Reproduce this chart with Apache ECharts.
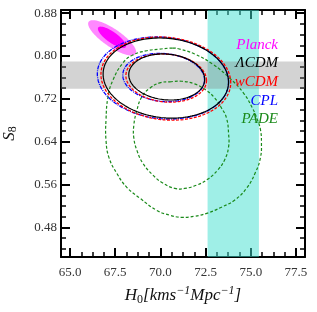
<!DOCTYPE html>
<html><head><meta charset="utf-8">
<script src="https://cdn.jsdelivr.net/npm/echarts@6/dist/echarts.min.js"></script>
<style>html,body{margin:0;padding:0;background:#fff}#c{width:317px;height:312px}</style>
</head><body><div id="c"></div>
<script>
// ---- tick values ----
const xMajorTicks = [65, 67.5, 70, 72.5, 75, 77.5];
const xMinorTicks = [65.625, 66.25, 66.875, 68.125, 68.75, 69.375, 70.625, 71.25, 71.875, 73.125, 73.75, 74.375, 75.625, 76.25, 76.875];
const yMajorTicks = [0.48, 0.56, 0.64, 0.72, 0.80, 0.88];
const yMinorTicks = [0.44, 0.46, 0.50, 0.52, 0.54, 0.58, 0.60, 0.62, 0.66, 0.68, 0.70, 0.74, 0.76, 0.78, 0.82, 0.84, 0.86];

// ---- bands ----
const h0Band = [72.61, 75.45];   // local H0
const s8Band = [0.739, 0.790];   // weak lensing S8

// ---- ellipse contours: [H0 centre, S8 centre, H0 half-extent, S8 half-extent, correlation] ----
const planckOuter = [67.33, 0.834, 1.33, 0.033, -0.80];
const planckInner = [67.32, 0.835, 0.78, 0.020, -0.80];
const lcdmOuter = [70.30, 0.759, 3.47, 0.0748, -0.1];
const lcdmInner = [70.35, 0.761, 2.10, 0.043, -0.1];
const wcdmOuter = [70.30, 0.758, 3.59, 0.0776, -0.1];
const wcdmInner = [70.32, 0.759, 2.23, 0.045, -0.1];
const cplOuter = [70.14, 0.759, 3.63, 0.0766, -0.1];
const cplInner = [70.18, 0.760, 2.26, 0.045, -0.1];

// ---- PADE contours [H0, S8] (closed loops) ----
const padeOuter = [[70.68,0.815],[71.07,0.813],[71.89,0.804],[72.89,0.785],[73.83,0.759],[74.60,0.731],[75.09,0.703],[75.37,0.681],[75.54,0.662],[75.59,0.638],[75.54,0.611],[75.26,0.583],[74.76,0.553],[74.10,0.531],[73.38,0.518],[72.61,0.507],[71.89,0.501],[71.18,0.499],[70.52,0.503],[69.80,0.512],[68.86,0.535],[68.14,0.555],[67.59,0.581],[67.15,0.611],[66.99,0.643],[66.99,0.681],[67.10,0.724],[67.37,0.755],[67.92,0.787],[68.47,0.802],[69.25,0.810],[69.96,0.813]];
const padeInner = [[70.52,0.752],[71.18,0.753],[71.89,0.748],[72.50,0.737],[73.00,0.722],[73.38,0.703],[73.66,0.684],[73.77,0.656],[73.77,0.630],[73.55,0.606],[73.16,0.587],[72.61,0.570],[72.00,0.559],[71.34,0.553],[70.79,0.553],[70.13,0.563],[69.58,0.578],[69.03,0.600],[68.70,0.624],[68.53,0.647],[68.53,0.671],[68.70,0.699],[68.97,0.724],[69.41,0.740],[69.96,0.750]];

// ---- legend ----
const legendLabels = ['Planck', 'ΛCDM', 'wCDM', 'CPL', 'PADE'];
const legendColors = ['#ff00ff', '#000000', '#ff0000', '#0000ff', '#1a8a1a'];

const SERIF = 'Liberation Serif';
const chart = echarts.init(document.getElementById('c'), null, {renderer: 'canvas'});

function ellipseSeries(params, style, z) {
  return {
    type: 'custom', xAxisIndex: 0, yAxisIndex: 0, z: z, silent: true, clip: true,
    data: [params],
    encode: {x: 0, y: 1},
    renderItem: function (p, api) {
      const cx = api.value(0), cy = api.value(1), ax = api.value(2), ay = api.value(3), r = api.value(4);
      const s = Math.sqrt(1 - r * r);
      const pts = [];
      for (let i = 0; i < 160; i++) {
        const t = i / 160 * Math.PI * 2;
        pts.push(api.coord([cx + ax * Math.cos(t), cy + ay * (r * Math.cos(t) + s * Math.sin(t))]));
      }
      return {type: 'polygon', shape: {points: pts}, style: style};
    }
  };
}
function loopSeries(points, style, z) {
  return {
    type: 'custom', xAxisIndex: 0, yAxisIndex: 0, z: z, silent: true, clip: true,
    data: points,
    encode: {x: 0, y: 1},
    renderItem: function (p, api) {
      if (p.dataIndex !== 0) return null;
      return {type: 'polygon', shape: {points: points.map(q => api.coord(q)), smooth: 0.45}, style: style};
    }
  };
}

function axisX(pos, major, showLabel) {
  const vals = major ? xMajorTicks : xMinorTicks;
  return {
    type: 'value', position: pos, min: 64.5, max: 78,
    axisLine: {show: major, onZero: false, lineStyle: {color: '#000', width: 2}},
    axisTick: {show: true, inside: true, length: major ? 9 : 5, customValues: vals, lineStyle: {color: '#000', width: major ? 2 : 1.5}},
    axisLabel: {show: showLabel, customValues: vals, formatter: v => v.toFixed(1), fontFamily: SERIF, fontSize: 13, color: '#333', margin: 9},
    splitLine: {show: false},
    name: showLabel ? '{i|H}{s|0}{i|[kms}{p|−1}{i|Mpc}{p|−1}{i|]}' : '',
    nameLocation: 'middle', nameGap: 28,
    nameTextStyle: {rich: {
      i: {fontFamily: SERIF, fontStyle: 'italic', fontSize: 17, color: '#111'},
      s: {fontFamily: SERIF, fontSize: 12, color: '#111', padding: [7, 0, 0, 0]},
      p: {fontFamily: SERIF, fontStyle: 'italic', fontSize: 12, color: '#111', padding: [0, 0, 10, 0]}
    }}
  };
}
function axisY(pos, major, showLabel) {
  const vals = major ? yMajorTicks : yMinorTicks;
  return {
    type: 'value', position: pos, min: 0.425, max: 0.886,
    axisLine: {show: major, onZero: false, lineStyle: {color: '#000', width: 2}},
    axisTick: {show: true, inside: true, length: major ? 9 : 5, customValues: vals, lineStyle: {color: '#000', width: major ? 2 : 1.5}},
    axisLabel: {show: showLabel, customValues: vals, formatter: v => v.toFixed(2), fontFamily: SERIF, fontSize: 13, color: '#333', margin: 4},
    splitLine: {show: false},
    name: showLabel ? '{i|S}{s|8}' : '',
    nameLocation: 'middle', nameGap: 42, nameRotate: 90,
    nameTextStyle: {rich: {
      i: {fontFamily: SERIF, fontStyle: 'italic', fontSize: 17, color: '#111'},
      s: {fontFamily: SERIF, fontSize: 12, color: '#111', padding: [7, 0, 0, 0]}
    }}
  };
}

const option = {
  animation: false,
  backgroundColor: '#fff',
  grid: {left: 61, right: 12, top: 10, bottom: 55, containLabel: false, outerBoundsMode: 'none'},
  xAxis: [axisX('bottom', true, true), axisX('bottom', false, false), axisX('top', true, false), axisX('top', false, false)],
  yAxis: [axisY('left', true, true), axisY('left', false, false), axisY('right', true, false), axisY('right', false, false)],
  graphic: legendLabels.map((t, i) => ({
    type: 'text', x: 278, y: [45, 63.5, 82.5, 101, 119.5][i], z: 100,
    style: {text: t, fill: legendColors[i], font: 'italic 15px "' + SERIF + '"', align: 'right', verticalAlign: 'middle'}
  })),
  series: [
    {
      type: 'line', xAxisIndex: 0, yAxisIndex: 0, data: [], silent: true, z: 1,
      markArea: {silent: true, data: [
        [{xAxis: h0Band[0], itemStyle: {color: 'rgba(64,224,208,0.5)'}}, {xAxis: h0Band[1]}],
        [{yAxis: s8Band[0], itemStyle: {color: 'rgba(128,128,128,0.35)'}}, {yAxis: s8Band[1]}]
      ]}
    },
    ellipseSeries(planckOuter, {fill: '#ff88ff', stroke: 'none'}, 2),
    ellipseSeries(planckInner, {fill: '#ff00ff', stroke: 'none'}, 3),
    loopSeries(padeOuter, {fill: 'none', stroke: '#1a8a1a', lineWidth: 1.2, lineDash: [3, 2]}, 4),
    loopSeries(padeInner, {fill: 'none', stroke: '#1a8a1a', lineWidth: 1.2, lineDash: [3, 2]}, 4),
    ellipseSeries(cplOuter, {fill: 'none', stroke: '#0000ff', lineWidth: 1.3, lineDash: [4, 1, 1, 1]}, 5),
    ellipseSeries(cplInner, {fill: 'none', stroke: '#0000ff', lineWidth: 1.3, lineDash: [4, 1, 1, 1]}, 5),
    ellipseSeries(wcdmOuter, {fill: 'none', stroke: '#ff0000', lineWidth: 1.3, lineDash: [3, 1.5]}, 6),
    ellipseSeries(wcdmInner, {fill: 'none', stroke: '#ff0000', lineWidth: 1.3, lineDash: [3, 1.5]}, 6),
    ellipseSeries(lcdmOuter, {fill: 'none', stroke: '#000000', lineWidth: 1.2}, 7),
    ellipseSeries(lcdmInner, {fill: 'none', stroke: '#000000', lineWidth: 1.2}, 7)
  ]
};
chart.setOption(option);
</script></body></html>
